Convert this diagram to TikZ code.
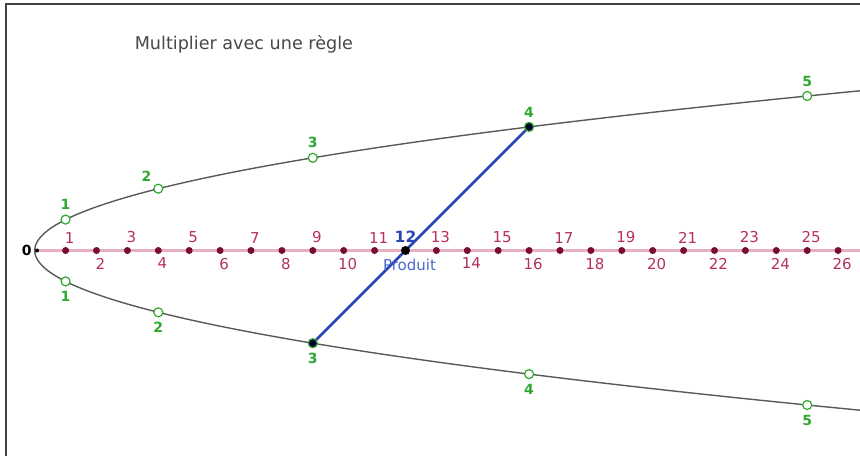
\documentclass[tikz,border=0pt]{standalone}
\usepackage{fontspec}
\setmainfont{DejaVu Sans}
\usetikzlibrary{positioning, backgrounds}
\definecolor{axisline}{HTML}{E8AFC0}
\definecolor{dotred}{HTML}{7A0A36}
\definecolor{numred}{HTML}{B4305E}
\definecolor{ptgreen}{HTML}{2EA82E}
\definecolor{segblue}{HTML}{2A46B4}
\definecolor{prodblue}{HTML}{4A68C8}

\begin{document}
\begin{tikzpicture}[x=30.9pt, y=30.9pt, every node/.style={inner sep=0pt},
    tick/.style={circle, fill=dotred, minimum size=7pt},
    ptopen/.style={circle, draw=ptgreen, fill=white, line width=1.2pt, minimum size=9pt},
    ptsel/.style={circle, draw=ptgreen, fill=black!80!blue, line width=1.2pt, minimum size=9pt},
    numlab/.style={text=numred, font=\fontsize{15}{15}\selectfont},
    ptlab/.style={text=ptgreen, font=\bfseries\fontsize{14}{14}\selectfont}]
    \useasboundingbox (-1.123,-6.650) rectangle (26.709,8.107);

    % Frame and title
    \draw[line width=2pt, black!75] (-0.929,-6.650) -- (-0.929,7.977) -- (26.709,7.977);
    \node[text=black!72, font=\fontsize{17.6}{17.6}\selectfont] (title) at (6.77,6.68) {Multiplier avec une règle};

    % Ruler
    \node[circle, fill=black, minimum size=4pt] (zero) at (0.074,0) {};
    \node[left=3pt of zero, font=\bfseries\fontsize{14}{14}\selectfont] (zerolab) {0};
    \coordinate (axend) at (26.709,0);
    \foreach \n in {1,...,26} {
        \node[tick] (t\n) at (\n,0) {};
        \ifnum\n=12 \else
            \ifodd\n
                \node[numlab, above=3.5pt of t\n, xshift=4pt] (n\n) {\n};
            \else
                \node[numlab, below=3.5pt of t\n, xshift=4pt] (n\n) {\n};
            \fi
        \fi
    }
    \node[circle, fill=black, minimum size=9pt] (prod) at (12,0) {};
    \node[above=3.5pt of prod, text=segblue, font=\bfseries\fontsize{15.5}{15.5}\selectfont] (prodnum) {12};
    \node[below=4pt of prod, xshift=4pt, text=prodblue, font=\fontsize{15}{15}\selectfont] (prodlab) {Produit};

    % Points on the parabola
    \foreach \k/\us/\ls/\upos in {1/ptopen/ptopen/above, 2/ptopen/ptopen/above left,
                                  3/ptopen/ptsel/above, 4/ptsel/ptopen/above, 5/ptopen/ptopen/above} {
        \node[\us] (u\k) at (\k*\k,\k) {};
        \node[\ls] (l\k) at (\k*\k,-\k) {};
        \node[ptlab, \upos=4.5pt of u\k] (ul\k) {\k};
        \node[ptlab, below=4.5pt of l\k] (ll\k) {\k};
    }

    % Curve, ruler line and product segment
    \begin{scope}[on background layer]
        \draw[black!65, line width=1.4pt] plot[domain=-5.168:5.168, samples=120, variable=\t] ({\t*\t},\t);
        \draw[axisline, line width=3.2pt] (zero.center) -- (axend);
        \draw[segblue, line width=2.6pt] (l3.center) -- (u4.center);
    \end{scope}
\end{tikzpicture}
\end{document}
